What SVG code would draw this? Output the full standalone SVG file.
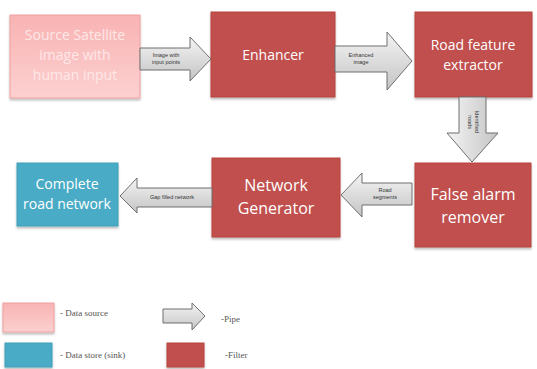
<svg xmlns="http://www.w3.org/2000/svg" width="537" height="369" viewBox="0 0 537 369">
  <defs>
    <linearGradient id="pinkFill" x1="0" y1="0" x2="0" y2="1">
      <stop offset="0" stop-color="#f9b3b3"/>
      <stop offset="1" stop-color="#fcd0d0"/>
    </linearGradient>
    <linearGradient id="pipeFill" x1="0" y1="0" x2="0" y2="1">
      <stop offset="0" stop-color="#f4f4f4"/>
      <stop offset="0.5" stop-color="#dcdcdc"/>
      <stop offset="1" stop-color="#c4c4c4"/>
    </linearGradient>
    <linearGradient id="pipeFillV" x1="0" y1="0" x2="1" y2="0">
      <stop offset="0" stop-color="#f4f4f4"/>
      <stop offset="0.5" stop-color="#dcdcdc"/>
      <stop offset="1" stop-color="#c4c4c4"/>
    </linearGradient>
    <filter id="shadow" x="-10%" y="-10%" width="120%" height="130%">
      <feDropShadow dx="0" dy="2" stdDeviation="1" flood-color="#000" flood-opacity="0.25"/>
    </filter>
  </defs>
  <style>
    .filter { fill: #c0504d; stroke: #b8443f; stroke-width: 1; filter: url(#shadow); }
    .source { fill: url(#pinkFill); stroke: #eea0a0; stroke-width: 1; filter: url(#shadow); }
    .sink { fill: #4aabc5; stroke: #3f9fb9; stroke-width: 1; filter: url(#shadow); }
    .pipe { fill: url(#pipeFill); stroke: #6f6f6f; stroke-width: 1; }
    .pipeV { fill: url(#pipeFillV); stroke: #6f6f6f; stroke-width: 1; }
    .label { font-family: "Open Sans", "Liberation Sans", sans-serif; font-size: 14px; fill: #ffffff; text-anchor: middle; }
    .big { font-size: 16px; }
    .srcLabel { fill: #fde8e8; }
    .pipeLabel { font-family: "Liberation Sans", sans-serif; font-size: 5.5px; fill: #333333; text-anchor: middle; }
    .legend { font-family: "Liberation Serif", serif; font-size: 9px; fill: #555555; }
  </style>

  <!-- processing blocks -->
  <g id="source">
    <rect class="source" x="10" y="15" width="130" height="83"/>
    <text class="label srcLabel" x="75" y="40">Source Satellite</text>
    <text class="label srcLabel" x="75" y="60">image with</text>
    <text class="label srcLabel" x="75" y="80">human input</text>
  </g>
  <g id="enhancer">
    <rect class="filter" x="211" y="12" width="124" height="85"/>
    <text class="label" x="273" y="60">Enhancer</text>
  </g>
  <g id="extractor">
    <rect class="filter" x="415" y="12" width="117" height="85"/>
    <text class="label" x="473" y="50">Road feature</text>
    <text class="label" x="473" y="70">extractor</text>
  </g>
  <g id="remover">
    <rect class="filter" x="415" y="163" width="116" height="84"/>
    <text class="label big" x="473" y="200">False alarm</text>
    <text class="label big" x="473" y="223">remover</text>
  </g>
  <g id="generator">
    <rect class="filter" x="212" y="158" width="128" height="79"/>
    <text class="label big" x="276" y="191">Network</text>
    <text class="label big" x="276" y="214">Generator</text>
  </g>
  <g id="complete">
    <rect class="sink" x="17" y="163" width="101" height="63"/>
    <text class="label" x="67" y="189">Complete</text>
    <text class="label" x="67" y="209">road network</text>
  </g>

  <!-- pipes between blocks -->
  <g id="connectors">
    <g id="pipe-input">
      <path class="pipe" d="M140,48 H190 V37 L211,59 L190,81 V70 H140 Z"/>
      <text class="pipeLabel" x="166" y="57">Image with</text>
      <text class="pipeLabel" x="166" y="64">input points</text>
    </g>
    <g id="pipe-enhanced">
      <path class="pipe" d="M335,46 H387 V32 L412,61 L387,90 V72 H335 Z"/>
      <text class="pipeLabel" x="361" y="57">Enhanced</text>
      <text class="pipeLabel" x="361" y="64">image</text>
    </g>
    <g id="pipe-identified">
      <path class="pipeV" d="M459,97 V133 H447 L472,162 L498,133 H486 V97 Z"/>
      <text class="pipeLabel" transform="translate(475,122) rotate(90)">Identified</text>
      <text class="pipeLabel" transform="translate(468,122) rotate(90)">roads</text>
    </g>
    <g id="pipe-segments">
      <path class="pipe" d="M412,183 H362 V173 L341,195 L362,217 V205 H412 Z"/>
      <text class="pipeLabel" x="385" y="192">Road</text>
      <text class="pipeLabel" x="385" y="199">segments</text>
    </g>
    <g id="pipe-gap">
      <path class="pipe" d="M212,188 H137 V178 L120,196 L137,213 V207 H212 Z"/>
      <text class="pipeLabel" x="172" y="199">Gap filled network</text>
    </g>
  </g>

  <!-- legend -->
  <g id="legend">
    <rect class="source" x="3" y="303" width="51" height="29"/>
    <text class="legend" x="60" y="316">- Data source</text>
    <rect class="sink" x="5" y="343" width="47" height="24"/>
    <text class="legend" x="60" y="358">- Data store (sink)</text>
    <path class="pipe" d="M163,309 H192 V303 L205,316 L192,330 V323 H163 Z"/>
    <text class="legend" x="221" y="322">-Pipe</text>
    <rect class="filter" x="167" y="343" width="37" height="24"/>
    <text class="legend" x="225" y="358">-Filter</text>
  </g>
</svg>
